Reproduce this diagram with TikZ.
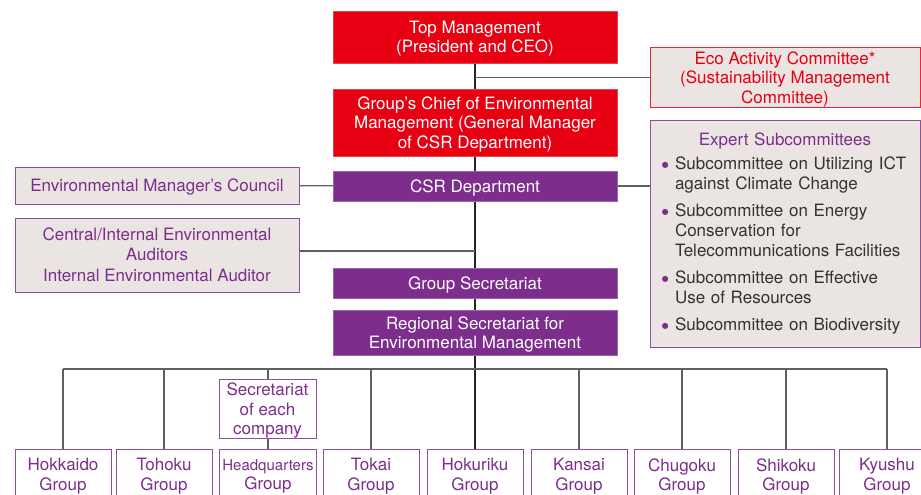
\documentclass[tikz,border=0pt]{standalone}
\usepackage{fontspec}
\setmainfont{TeX Gyre Heros}
\usepackage{tikz}
\usetikzlibrary{positioning, backgrounds}
\usepackage{xcolor}
\definecolor{ntred}{HTML}{E60012}
\definecolor{ntpurple}{HTML}{7D2E8C}
\definecolor{ntbg}{HTML}{EAE4E2}
\definecolor{nttext}{HTML}{333333}
\definecolor{ntline}{HTML}{606060}

\newcommand{\hqfont}{\fontsize{15}{19.5}\selectfont}
\newcommand{\subdot}{\tikz[baseline=-4.6pt]\fill[ntpurple] (0,0) circle (3.1pt);}
\newcommand{\subline}[2]{\par\vspace{#1}\hangindent=13pt\hangafter=1\noindent
  \makebox[13pt][l]{\subdot}\textcolor{nttext}{#2}}

\tikzset{
  redbox/.style={fill=ntred, draw=ntred!75, text=white, minimum width=284pt,
    text depth=0pt, align=center},
  purplebox/.style={fill=ntpurple, draw=ntpurple!75, text=white, minimum width=284pt,
    text depth=0pt, align=center},
  greybox/.style={fill=ntbg, draw=ntpurple!85, line width=1pt, text=ntpurple, align=center},
  notebox/.style={greybox, text depth=0pt},
  groupbox/.style={fill=white, draw=ntpurple!85, line width=1pt, text=ntpurple,
    minimum width=96pt, minimum height=50pt, text depth=0pt, align=center, anchor=north},
  link/.style={draw=ntline, line width=1.1pt},
  mainlink/.style={draw=black!85, line width=1.1pt},
}

\begin{document}
\begin{tikzpicture}[x=1pt, y=-1pt, font=\fontsize{17}{19.5}\selectfont]
    \useasboundingbox (0,0) rectangle (921,495);

    \node[redbox, minimum height=52pt] (top) at (475,37) {Top Management\\(President and CEO)};
    \node[redbox, minimum height=67pt] (chief) at (475,122.5)
      {Group’s Chief of Environmental\\Management (General Manager\\of CSR Department)};
    \node[purplebox, minimum height=30pt] (csr) at (475,186) {CSR Department};
    \node[purplebox, minimum height=30pt] (gsec) at (475,283) {Group Secretariat};
    \node[purplebox, minimum height=45pt] (regional) at (475,332.5)
      {Regional Secretariat for\\Environmental Management};

    \node[notebox, draw=ntred!85, text=ntred, minimum width=270pt, minimum height=59pt]
      (eco) at (785,77.5) {Eco Activity Committee*\\(Sustainability Management\\Committee)};
    \node[greybox, text width=246pt, inner xsep=12pt, minimum height=227pt, align=left,
          font=\fontsize{17}{20}\selectfont] (expert) at (785,233.5) {%
      {\centering Expert Subcommittees\par}
      \subline{4pt}{Subcommittee on Utilizing ICT\newline against Climate Change}
      \subline{7pt}{Subcommittee on Energy\newline Conservation for\newline Telecommunications Facilities}
      \subline{7pt}{Subcommittee on Effective\newline Use of Resources}
      \subline{7pt}{Subcommittee on Biodiversity}};

    \node[notebox, minimum width=284pt, minimum height=37pt] (council) at (157,185.5)
      {Environmental Manager’s Council};
    \node[notebox, minimum width=284pt, minimum height=74pt] (central) at (157,255)
      {Central/Internal Environmental\\Auditors\\[2pt]Internal Environmental Auditor};

    \node[groupbox, minimum width=97pt, minimum height=58pt, anchor=center] (secr) at (267.5,409)
      {Secretariat\\of each\\company};

    \foreach \gx/\gname/\glabel in {63/hokkaido/Hokkaido, 164/tohoku/Tohoku,
        268/hq/{{\hqfont Headquarters}}, 371/tokai/Tokai, 475/hokuriku/Hokuriku,
        579/kansai/Kansai, 682/chugoku/Chugoku, 786/shikoku/Shikoku, 887/kyushu/Kyushu}
      \node[groupbox] (\gname) at (\gx,449) {\glabel\\Group};

    \coordinate (bus) at (475,369);

    \begin{scope}[on background layer]
      \draw[mainlink] (top.south) -- (hokuriku.north);
      \draw[link] (eco.west) -- (eco.west -| top.south);
      \draw[link] (council) -- (csr);
      \draw[link] (csr.east) -- (csr.east -| expert.west);
      \draw[link] ([yshift=4pt]central.east) -- ([yshift=4pt]central.east -| top.south);
      \draw[link] (hokkaido.north |- bus) -- (kyushu.north |- bus);
      \foreach \gname in {hokkaido, tohoku, hq, tokai, kansai, chugoku, shikoku, kyushu}
        \draw[link] (\gname.north) -- (\gname.north |- bus);
    \end{scope}
  \end{tikzpicture}
\end{document}
